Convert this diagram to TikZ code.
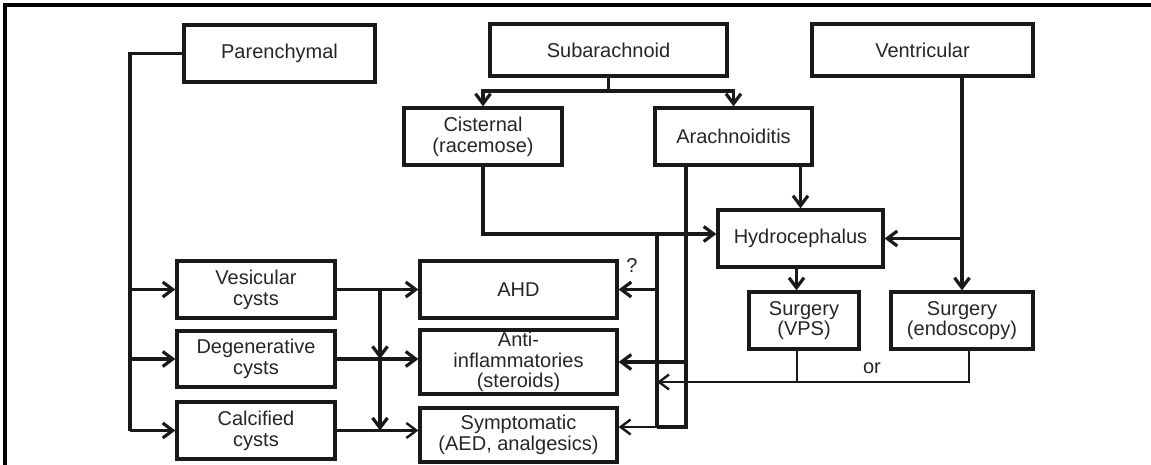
\documentclass[tikz,border=0pt]{standalone}
\usepackage{fontspec}
\setmainfont{Liberation Sans}
\usetikzlibrary{arrows.meta}
\begin{document}
\begin{tikzpicture}[x=0.5pt,y=-0.5pt,
  box/.style={draw=black!90, line width=1.6pt, align=center, inner sep=0pt,
    font=\fontsize{10}{10.4}\selectfont, text=black!85},
  conn/.style={draw=black!90, line width=1.6pt},
  thinconn/.style={draw=black!90, line width=1.2pt},
  arr/.style={-{Straight Barb[length=5pt,width=7.5pt]}},
  lbl/.style={font=\fontsize{10}{12}\selectfont, text=black!85, inner sep=0pt},
  frame/.style={draw=black, line width=1.7pt}
]
\useasboundingbox (0,0) rectangle (1151,465);
\draw[frame] (5,466) -- (5,5) -- (1152,5);

% boxes
\node[box, minimum width=95.5pt, minimum height=28.5pt] (par) at (279.5,53.5) {Parenchymal};
\node[box, minimum width=118.5pt, minimum height=26pt] (sub) at (608.5,50) {Subarachnoid};
\node[box, minimum width=110.5pt, minimum height=26pt] (ven) at (922.5,50) {Ventricular};
\node[box, minimum width=79pt, minimum height=28.5pt] (cis) at (483,136.5) {Cisternal\\(racemose)};
\node[box, minimum width=78.5pt, minimum height=28.5pt] (ara) at (733.5,136.5) {Arachnoiditis};
\node[box, minimum width=82.5pt, minimum height=28.5pt] (hyd) at (800.5,238.5) {Hydrocephalus};
\node[box, minimum width=55pt, minimum height=28.5pt] (vps) at (804,320.5) {Surgery\\(VPS)};
\node[box, minimum width=71pt, minimum height=28.5pt] (endo) at (962,320.5) {Surgery\\(endoscopy)};
\node[box, minimum width=79pt, minimum height=28.5pt] (ves) at (256,289.5) {Vesicular\\cysts};
\node[box, minimum width=79pt, minimum height=28pt] (deg) at (256,359) {Degenerative\\cysts};
\node[box, minimum width=79pt, minimum height=28.5pt] (cal) at (256,430.5) {Calcified\\cysts};
\node[box, minimum width=98.5pt, minimum height=28.5pt] (ahd) at (518.5,289.5) {AHD};
\node[box, minimum width=98.5pt, minimum height=32pt] (anti) at (518.5,362) {Anti-\\inflammatories\\(steroids)};
\node[box, minimum width=98.5pt, minimum height=27pt] (sym) at (518.5,435) {Symptomatic\\(AED, analgesics)};

% helper coordinates
\coordinate (pl) at (130,0);
\coordinate (sj) at (608.5,91);
\coordinate (c1) at (657,0);
\coordinate (a1) at (686,0);
\coordinate (cy) at (380,0);
\coordinate (orl) at (0,382);
\coordinate (cj) at (483,234);

% parenchymal
\draw[conn] (par.west) -- (par.west -| pl) -- (cal.west -| pl);
\draw[conn,arr] (ves.west -| pl) -- (ves.west);
\draw[conn,arr] (deg.west -| pl) -- (deg.west);
\draw[conn,arr] (cal.west -| pl) -- (cal.west);

% subarachnoid
\draw[conn] (sub.south) -- (sj);
\draw[conn,arr] (sj) -| (cis.north);
\draw[conn,arr] (sj) -| (ara.north);

% cisternal -> hydrocephalus
\draw[conn,arr] (cis.south) -- (cj) -- (cj -| hyd.west);
\draw[conn] (cj -| c1) -- ([yshift=4pt]sym.east -| c1);
\draw[conn,arr] (ahd.east -| c1) -- (ahd.east);
\node[lbl] (q) at (632,266) {?};
\draw[thinconn,arr] ([yshift=4pt]sym.east -| c1) -- ([yshift=4pt]sym.east);

% arachnoiditis
\draw[conn] (ara.south -| a1) -- ([yshift=4pt]sym.east -| a1) -- ([yshift=4pt]sym.east -| c1);
\draw[conn,arr] (anti.east -| a1) -- (anti.east);
\draw[conn,arr] (hyd.north |- ara.south) -- (hyd.north);

% ventricular
\draw[conn,arr] (endo.north |- ven.south) -- (endo.north);
\draw[conn,arr] (endo.north |- hyd.east) -- (hyd.east);

% hydrocephalus -> VPS
\draw[conn,arr] ([xshift=-2pt]hyd.south) -- ([xshift=-2pt]hyd.south |- vps.north);

% or line
\draw[thinconn] ([xshift=-3.5pt]vps.south) -- ([xshift=-3.5pt]vps.south |- orl);
\draw[thinconn,arr] ([xshift=3.5pt]endo.south) -- ([xshift=3.5pt]endo.south |- orl) -- (orl -| c1);
\node[lbl] (or) at (872,368) {or};

% cysts -> treatments
\draw[conn,arr] (ves.east) -- (ahd.west);
\draw[conn,arr] (deg.east) -- (deg.east -| anti.west);
\draw[thinconn,arr] (cal.east) -- (cal.east -| sym.west);
\draw[conn,arr] (ves.east -| cy) -- (deg.east -| cy);
\draw[conn,arr] (deg.east -| cy) -- (cal.east -| cy);
\end{tikzpicture}
\end{document}
